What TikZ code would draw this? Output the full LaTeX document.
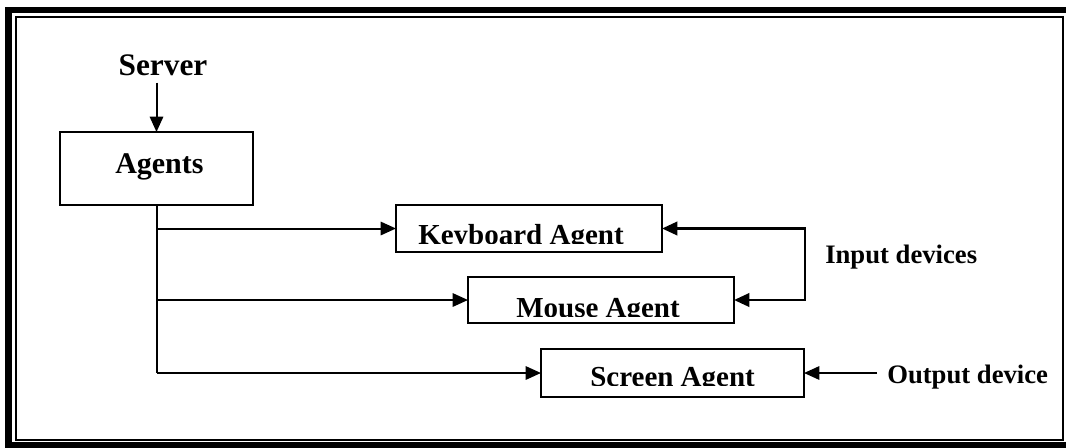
\documentclass[tikz,border=0pt]{standalone}
\usepackage{fontspec}
\setmainfont{Liberation Serif}
\usetikzlibrary{arrows.meta}
\begin{document}
\begin{tikzpicture}[x=0.75pt,y=-0.75pt,
  box/.style={draw=black,line width=1.5pt,inner sep=0pt,outer sep=0pt},
  boxtext/.style={font=\bfseries\fontsize{21.75}{24}\selectfont,inner sep=0pt,anchor=base west},
  labeltext/.style={font=\bfseries\fontsize{20}{24}\selectfont,inner sep=0pt,anchor=base west},
  tip/.tip={Triangle[length=11.5pt,width=10pt]},
  link/.style={line width=1.5pt,-tip},
  bracket/.style={line width=2pt,tip-tip}]
\useasboundingbox (0,0) rectangle (1066,447);
\begin{scope}
  \clip (0,0) rectangle (1066,447);
  % double frame round the figure
  \draw[line width=4.8pt] (8.5,10) rectangle (1072,445);
  \draw[line width=1.5pt] (16,17) rectangle (1063,440);
\end{scope}

% boxes
\node[box,minimum width=144.75pt,minimum height=54.75pt] (agents) at (156.5,168.5) {};
\node[box,minimum width=199.5pt,minimum height=35.25pt] (kb) at (529,228.5) {};
\node[box,minimum width=199.5pt,minimum height=34.5pt] (mouse) at (601,300) {};
\node[box,minimum width=197.25pt,minimum height=36pt] (screen) at (672.5,373) {};

% texts
\node[boxtext,font=\bfseries\fontsize{23.5}{26}\selectfont,anchor=base] (server) at (163,75) {Server};
\node[boxtext,font=\bfseries\fontsize{22.5}{26}\selectfont] (agentstext) at (115,173) {Agents};
\begin{scope}
  \clip (kb.north west) rectangle (664,243);
  \node[boxtext] (kbtext) at (418,244) {Keyboard Agent};
\end{scope}
\begin{scope}
  \clip (mouse.north west) rectangle (736,316);
  \node[boxtext] (mousetext) at (516,317) {Mouse Agent};
\end{scope}
\begin{scope}
  \clip (screen.north west) rectangle (806,385);
  \node[boxtext] (screentext) at (590,386) {Screen Agent};
\end{scope}
\node[labeltext] (input) at (825,263) {Input devices};
\node[labeltext] (output) at (887,383) {Output device};

% connectors
\draw[link] (server.south -| agents.north) ++(0,7) -- (agents.north);
\coordinate (trunk) at (agents.south |- screen.west);
\draw[line width=1.5pt] (agents.south) -- (trunk);
\draw[link] (agents.south |- kb.west) -- (kb.west);
\draw[link] (agents.south |- mouse.west) -- (mouse.west);
\draw[link] (trunk) -- (screen.west);
\coordinate (bend) at (805,0);
\draw[bracket] (kb.east) -- (kb.east -| bend) |- (mouse.east);
\coordinate (outstart) at (877,373);
\draw[link] (outstart) -- (screen.east);
\end{tikzpicture}
\end{document}
